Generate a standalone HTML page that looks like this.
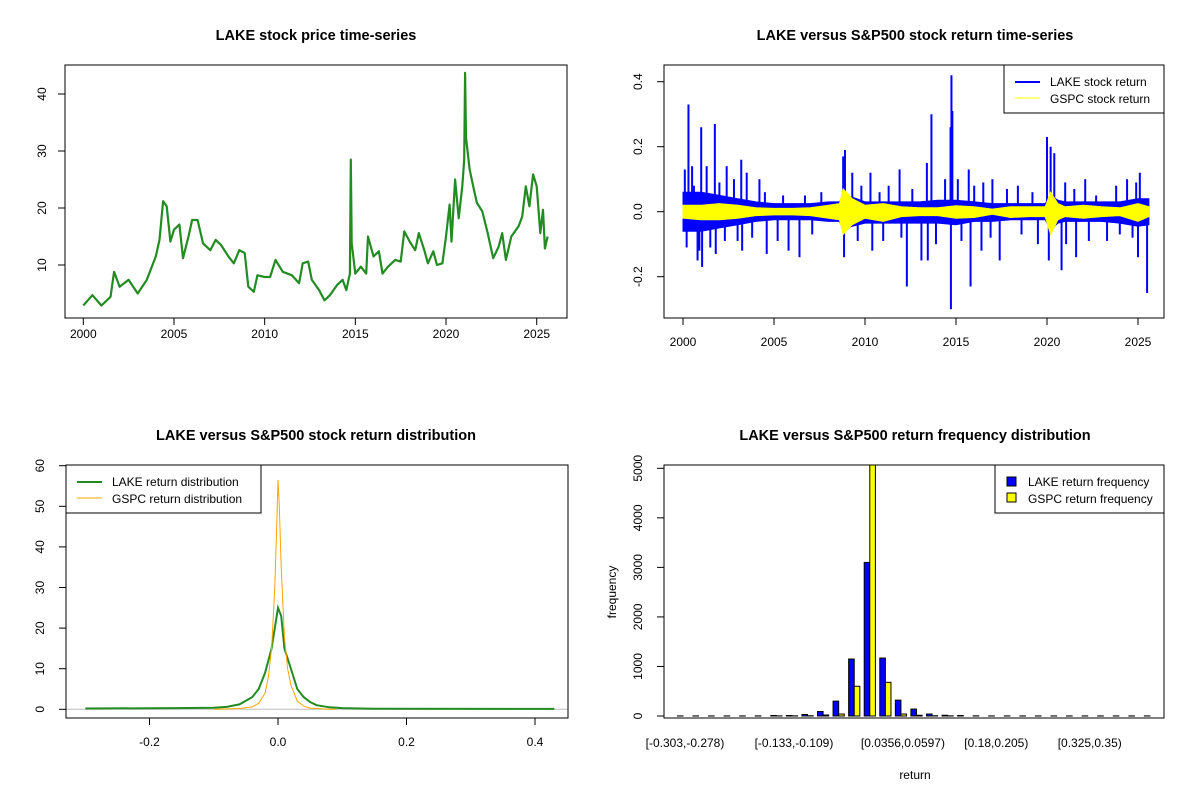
<!DOCTYPE html>
<html><head><meta charset="utf-8"><style>
body{margin:0;background:#fff}
svg{display:block;font-family:"Liberation Sans",Arial,sans-serif}
</style></head><body>
<svg id="c" width="1200" height="800" viewBox="0 0 1200 800"></svg>
<script>
// ---- Panel 1 data: LAKE price ----
const priceYears=[2000,2000.5,2001,2001.5,2001.7,2002,2002.5,2003,2003.5,2004,2004.2,2004.4,2004.6,2004.8,2005,2005.3,2005.5,2005.8,2006,2006.3,2006.6,2007,2007.3,2007.6,2008,2008.3,2008.6,2008.9,2009.1,2009.4,2009.6,2010,2010.3,2010.6,2011,2011.5,2011.9,2012.1,2012.4,2012.6,2013,2013.3,2013.6,2014,2014.3,2014.5,2014.7,2014.75,2014.8,2015,2015.3,2015.6,2015.7,2016,2016.3,2016.5,2016.8,2017.2,2017.5,2017.7,2018,2018.3,2018.5,2018.8,2019,2019.3,2019.5,2019.8,2020,2020.2,2020.3,2020.5,2020.7,2020.9,2021,2021.05,2021.1,2021.3,2021.5,2021.7,2022,2022.3,2022.6,2022.9,2023.1,2023.3,2023.6,2024,2024.2,2024.4,2024.6,2024.8,2025,2025.2,2025.35,2025.45,2025.6];
const priceValues=[2.9,4.7,2.9,4.4,8.8,6.2,7.4,5.0,7.4,11.5,14.4,21.2,20.3,14.1,16.2,17.1,11.2,15,17.9,17.9,13.8,12.6,14.4,13.5,11.5,10.3,12.6,12.1,6.2,5.3,8.2,7.9,7.9,10.9,8.8,8.2,6.8,10.3,10.6,7.4,5.6,3.8,4.7,6.5,7.4,5.6,8.5,28.5,13.8,8.5,9.7,8.5,15,11.5,12.4,8.5,9.7,10.9,10.6,15.9,14.1,12.6,15.6,12.6,10.3,12.4,10,10.3,15,20.6,14.1,25,18.2,23.8,28.5,43.7,32.4,26.8,23.8,20.9,19.4,15.6,11.2,13.2,15.6,10.9,15,16.8,18.5,23.8,20.3,25.9,23.8,15.6,19.7,12.9,15];
const priceTicksY=[10,20,30,40];
const yearTicks=[2000,2005,2010,2015,2020,2025];
// ---- Panel 2 data: returns ----
const bandYears=[2000,2001,2002,2003,2004,2005,2006,2007,2008,2008.6,2008.8,2009.3,2010,2011,2012,2013,2014,2015,2016,2017,2018,2019,2019.9,2020.2,2020.6,2021,2022,2023,2024,2025,2025.6];
const lakeBandHi=[0.06,0.06,0.05,0.04,0.03,0.025,0.025,0.025,0.03,0.03,0.05,0.045,0.03,0.03,0.03,0.03,0.035,0.035,0.03,0.025,0.025,0.025,0.025,0.05,0.035,0.03,0.03,0.03,0.03,0.04,0.04];
const lakeBandLo=[-0.06,-0.06,-0.05,-0.04,-0.03,-0.025,-0.025,-0.025,-0.03,-0.03,-0.055,-0.045,-0.035,-0.035,-0.035,-0.035,-0.035,-0.04,-0.03,-0.03,-0.025,-0.025,-0.025,-0.055,-0.035,-0.03,-0.03,-0.03,-0.035,-0.045,-0.04];
const gspcBandHi=[0.02,0.02,0.025,0.02,0.012,0.01,0.01,0.012,0.02,0.025,0.07,0.04,0.02,0.025,0.015,0.012,0.012,0.018,0.015,0.008,0.015,0.015,0.015,0.06,0.025,0.015,0.02,0.015,0.012,0.025,0.015];
const gspcBandLo=[-0.02,-0.025,-0.025,-0.02,-0.012,-0.01,-0.01,-0.012,-0.02,-0.025,-0.07,-0.04,-0.02,-0.03,-0.015,-0.012,-0.012,-0.02,-0.018,-0.008,-0.018,-0.015,-0.015,-0.07,-0.025,-0.015,-0.02,-0.015,-0.012,-0.03,-0.015];
const spikeYears=[2000.1,2000.3,2000.5,2001.0,2001.3,2001.75,2002.4,2003.2,2003.5,2004.2,2008.8,2008.9,2009.3,2010.3,2011.9,2013.4,2013.65,2014.4,2014.7,2014.75,2014.8,2015.1,2015.7,2016.5,2017.0,2018.4,2020.0,2020.2,2020.4,2021.0,2022.1,2024.4,2025.1,2000.2,2000.8,2001.05,2001.8,2003.25,2004.6,2005.8,2006.4,2008.85,2010.4,2012.3,2013.1,2013.45,2014.72,2015.8,2016.4,2017.4,2019.5,2020.1,2020.8,2021.6,2023.3,2025.0,2025.5,2000.6,2002.0,2002.8,2004.5,2005.5,2006.7,2007.6,2009.8,2010.8,2011.3,2012.6,2016.0,2017.8,2019.2,2021.5,2022.7,2023.8,2024.9,2002.3,2003.8,2005.2,2007.1,2009.6,2011.0,2012.0,2016.9,2018.6,2021.05,2022.3,2024.0,2024.7,2001.5,2000.9,2003.0,2013.9,2015.3];
const spikeValues=[0.13,0.33,0.14,0.26,0.14,0.27,0.14,0.16,0.12,0.1,0.17,0.19,0.12,0.12,0.13,0.15,0.3,0.1,0.26,0.42,0.31,0.1,0.13,0.09,0.1,0.08,0.23,0.2,0.18,0.09,0.1,0.1,0.12,-0.11,-0.15,-0.17,-0.13,-0.12,-0.13,-0.12,-0.14,-0.14,-0.12,-0.23,-0.15,-0.15,-0.3,-0.23,-0.12,-0.15,-0.1,-0.15,-0.18,-0.14,-0.09,-0.14,-0.25,0.08,0.09,0.1,0.06,0.05,0.05,0.06,0.08,0.06,0.08,0.07,0.08,0.07,0.06,0.07,0.05,0.08,0.09,-0.09,-0.08,-0.09,-0.07,-0.09,-0.09,-0.08,-0.08,-0.07,-0.1,-0.09,-0.07,-0.08,-0.11,-0.12,-0.09,-0.1,-0.09];
const retTicksY=[-0.2,0,0.2,0.4];
const retTickLabels=["-0.2","0.0","0.2","0.4"];
// ---- Panel 3 data: densities ----
const lakeDensX=[-0.3,-0.16,-0.1,-0.08,-0.06,-0.04,-0.03,-0.02,-0.01,-0.005,0,0.005,0.01,0.02,0.03,0.04,0.05,0.06,0.08,0.1,0.13,0.15,0.43];
const lakeDensY=[0.2,0.3,0.4,0.6,1.2,3,5,9,15,20,25,23,15,10,5,3,1.8,1,0.5,0.3,0.2,0.15,0.1];
const gspcDensX=[-0.1,-0.06,-0.04,-0.03,-0.02,-0.015,-0.01,-0.005,-0.002,0,0.002,0.005,0.01,0.015,0.02,0.03,0.04,0.05,0.07,0.09];
const gspcDensY=[0,0.2,0.6,1.5,4,8,15,30,45,56.5,50,35,18,10,6,2,0.8,0.3,0.1,0];
const densTicksX=[-0.2,0,0.2,0.4];
const densTickLabelsX=["-0.2","0.0","0.2","0.4"];
const densTicksY=[0,10,20,30,40,50,60];
// ---- Panel 4 data: histogram ----
const binLabels=["[-0.303,-0.278)","","","","","","","[-0.133,-0.109)","","","","","","","[0.0356,0.0597)","","","","","","[0.18,0.205)","","","","","","[0.325,0.35)","","","",""];
const lakeFreq=[2,2,2,2,2,3,10,10,30,90,300,1150,3100,1170,320,140,40,15,10,3,2,2,2,2,2,2,2,2,2,2,2];
const gspcFreq=[0,0,0,0,0,0,2,3,5,20,40,600,5100,680,40,15,5,3,0,0,0,0,0,0,0,0,0,0,0,0,0];
const histTicksY=[0,1000,2000,3000,4000,5000];

const svg=document.getElementById('c');
const NS='http://www.w3.org/2000/svg';
function mk(tag,attrs,parent,text){const e=document.createElementNS(NS,tag);for(const k in attrs)e.setAttribute(k,attrs[k]);if(text!==undefined)e.textContent=text;(parent||svg).appendChild(e);return e;}
function lin(d0,d1,r0,r1){return v=>r0+(v-d0)*(r1-r0)/(d1-d0);}
function title(x,y,t,name){const e=mk('text',{x:x,y:y,'text-anchor':'middle','font-size':'14.5','font-weight':'bold',fill:'#000'},svg,t);

}
function box(x0,y0,x1,y1,name){const e=mk('rect',{x:x0,y:y0,width:x1-x0,height:y1-y0,fill:'none',stroke:'#000','stroke-width':1});

}
function xAxis(g,ticks,labels,sx,yb,ly){const a=mk('g',{},g);


mk('line',{x1:sx(ticks[0]),x2:sx(ticks[ticks.length-1]),y1:yb,y2:yb,stroke:'#000'},a);
ticks.forEach((t,i)=>{mk('line',{x1:sx(t),x2:sx(t),y1:yb,y2:yb+7,stroke:'#000'},a);
const l=mk('text',{x:sx(t),y:ly,'text-anchor':'middle','font-size':'12'},a,labels[i]);

});}
function yAxis(g,ticks,labels,sy,xb,lx){const a=mk('g',{},g);


mk('line',{x1:xb,x2:xb,y1:sy(ticks[0]),y2:sy(ticks[ticks.length-1]),stroke:'#000'},a);
ticks.forEach((t,i)=>{mk('line',{x1:xb-7,x2:xb,y1:sy(t),y2:sy(t),stroke:'#000'},a);
const l=mk('text',{x:lx,y:sy(t),'text-anchor':'middle','font-size':'12',transform:`rotate(-90 ${lx} ${sy(t)})`},a,labels[i]);

});}
function pathOf(xs,ys,sx,sy){return xs.map((v,i)=>(i?'L':'M')+sx(v).toFixed(1)+','+sy(ys[i]).toFixed(1)).join('');}

// Panel 1
{const g=mk('g',{});
const sx=lin(2000,2025,83.3,536.7), sy=lin(0,40,322,94);
const p=mk('path',{d:pathOf(priceYears,priceValues,sx,sy),fill:'none',stroke:'#228B22','stroke-width':2.2,'stroke-linejoin':'round'},g);


box(65,65,567,318,'price-plot-box');
xAxis(g,yearTicks,yearTicks.map(String),sx,318,338);
yAxis(g,priceTicksY,priceTicksY.map(String),sy,65,46);
title(316,40,'LAKE stock price time-series','price-title');}

// Panel 2
{const g=mk('g',{});
const sx=lin(2000,2025,683,1138), sy=lin(0,0.4,211.7,81.7);
const lb=mk('path',{d:pathOf(bandYears.concat([...bandYears].reverse()),lakeBandHi.concat([...lakeBandLo].reverse()),sx,sy)+'Z',fill:'#0000FF',stroke:'#0000FF','stroke-width':1},g);


spikeYears.forEach((y,i)=>{const s=mk('line',{x1:sx(y),x2:sx(y),y1:sy(0),y2:sy(spikeValues[i]),stroke:'#0000FF','stroke-width':2},g);

});
const gb=mk('path',{d:pathOf(bandYears.concat([...bandYears].reverse()),gspcBandHi.concat([...gspcBandLo].reverse()),sx,sy)+'Z',fill:'#FFFF00',stroke:'#FFFF00','stroke-width':1},g);


box(664,65,1164,318,'return-plot-box');
xAxis(g,yearTicks,yearTicks.map(String),sx,318,346);
yAxis(g,retTicksY,retTickLabels,sy,664,642);
title(915,40,'LAKE versus S&P500 stock return time-series','return-title');
const lg=mk('g',{},g);
mk('rect',{x:1004,y:65,width:160,height:48,fill:'#fff',stroke:'#000'},lg);
mk('line',{x1:1015,x2:1040,y1:82,y2:82,stroke:'#0000FF','stroke-width':2},lg);
mk('line',{x1:1015,x2:1040,y1:98,y2:98,stroke:'#FFFF00','stroke-width':1},lg);
mk('text',{x:1050,y:86,'font-size':'12'},lg,'LAKE stock return');
mk('text',{x:1050,y:103,'font-size':'12'},lg,'GSPC stock return');}

// Panel 3
{const g=mk('g',{});
const sx=lin(0,0.4,278,535), sy=lin(0,60,709.3,465.7);
const z=mk('line',{x1:66,x2:568,y1:sy(0),y2:sy(0),stroke:'#BEBEBE','stroke-width':1},g);

const l=mk('path',{d:pathOf(lakeDensX,lakeDensY,sx,sy),fill:'none',stroke:'#228B22','stroke-width':2},g);

const o=mk('path',{d:pathOf(gspcDensX,gspcDensY,sx,sy),fill:'none',stroke:'#FFA500','stroke-width':1},g);

box(66,465,568,718,'density-plot-box');
xAxis(g,densTicksX,densTickLabelsX,sx,718,746);
yAxis(g,densTicksY,densTicksY.map(String),sy,66,44);
title(316,440,'LAKE versus S&P500 stock return distribution','density-title');
const lg=mk('g',{},g);
mk('rect',{x:66,y:465,width:195,height:48,fill:'#fff',stroke:'#000'},lg);
mk('line',{x1:77,x2:102,y1:482,y2:482,stroke:'#228B22','stroke-width':2},lg);
mk('line',{x1:77,x2:102,y1:498,y2:498,stroke:'#FFA500','stroke-width':1},lg);
mk('text',{x:112,y:486,'font-size':'12'},lg,'LAKE return distribution');
mk('text',{x:112,y:503,'font-size':'12'},lg,'GSPC return distribution');}

// Panel 4
{const g=mk('g',{});
const n=lakeFreq.length; const gx=lin(0,n-1,683,1150); const sy=lin(0,5000,716,468.3);
const bw=5.6;
lakeFreq.forEach((v,i)=>{const c=gx(i);const top=Math.max(sy(v),465);
const r=mk('rect',{x:c-bw,y:top,width:bw,height:716-top,fill:'#0000FF',stroke:'#000','stroke-width':1},g);

const w=gspcFreq[i];const t2=Math.max(sy(w),465);
const r2=mk('rect',{x:c,y:t2,width:bw,height:716-t2,fill:'#FFFF00',stroke:'#000','stroke-width':1},g);

if(binLabels[i]){const t=mk('text',{x:c+2,y:747,'text-anchor':'middle','font-size':'12'},g,binLabels[i]);
}});
box(664,465,1164,718,'histogram-plot-box');
yAxis(g,histTicksY,histTicksY.map(String),sy,664,642);
title(915,440,'LAKE versus S&P500 return frequency distribution','histogram-title');
const xl=mk('text',{x:915,y:779,'text-anchor':'middle','font-size':'12'},g,'return');

const yl=mk('text',{x:616,y:592,'text-anchor':'middle','font-size':'12',transform:'rotate(-90 616 592)'},g,'frequency');

const lg=mk('g',{},g);
mk('rect',{x:995,y:465,width:169,height:48,fill:'#fff',stroke:'#000'},lg);
mk('rect',{x:1007,y:477,width:9,height:9,fill:'#0000FF',stroke:'#000'},lg);
mk('rect',{x:1007,y:493,width:9,height:9,fill:'#FFFF00',stroke:'#000'},lg);
mk('text',{x:1028,y:486,'font-size':'12'},lg,'LAKE return frequency');
mk('text',{x:1028,y:503,'font-size':'12'},lg,'GSPC return frequency');}
</script>
</body></html>
